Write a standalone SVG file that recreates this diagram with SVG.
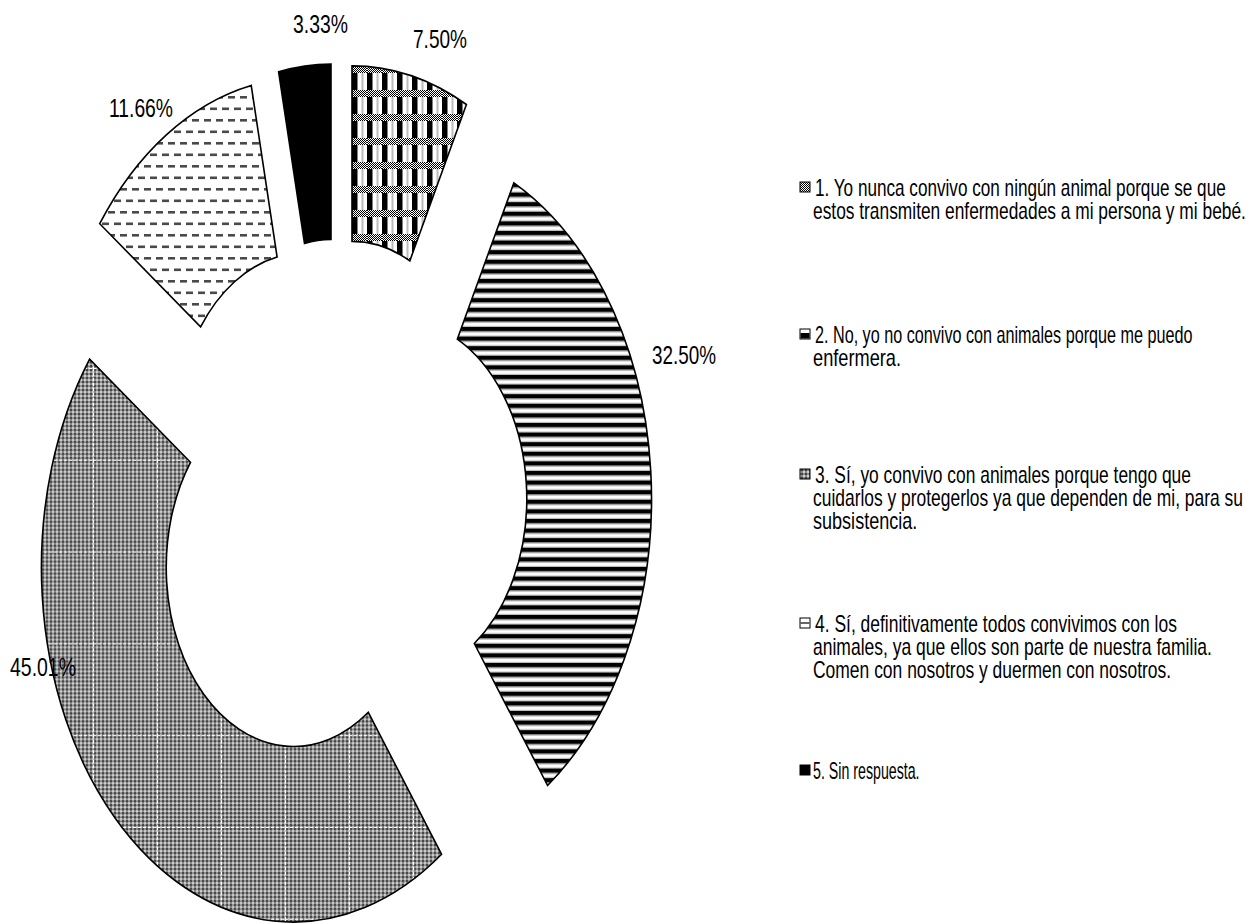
<svg xmlns="http://www.w3.org/2000/svg" width="1252" height="924" viewBox="0 0 1252 924">
<style>
.slice{stroke:#000;stroke-width:1.6;stroke-linejoin:miter}
.lbl{font-family:"Liberation Sans Narrow","Liberation Sans",Arial,sans-serif;font-size:25px;fill:#000}
.leg{font-family:"Liberation Sans","Liberation Sans Narrow",Arial,sans-serif;font-size:23px;fill:#000}
.mk{stroke:#000;stroke-width:1}
</style>
<defs>
<pattern id="chk2" width="2" height="2" patternUnits="userSpaceOnUse">
<rect width="2" height="2" fill="#fff"/><rect width="1" height="1" fill="#000"/><rect x="1" y="1" width="1" height="1" fill="#000"/>
</pattern>
<pattern id="p1" x="352" y="66" width="15" height="24" patternUnits="userSpaceOnUse">
<rect width="15" height="24" fill="#fff"/>
<rect y="0" width="15" height="7" fill="url(#chk2)"/>
<rect x="0" y="7" width="5.5" height="17" fill="#000"/>
<rect x="9.5" y="7" width="2" height="17" fill="#bbb"/>
</pattern>
<pattern id="p2" x="0" y="183" width="10" height="9.6" patternUnits="userSpaceOnUse">
<rect width="10" height="9.6" fill="#fff"/>
<rect y="0" width="10" height="4" fill="#000"/>
<rect y="4" width="10" height="1.2" fill="#777"/>
<rect y="8.4" width="10" height="1.2" fill="#bbb"/>
</pattern>
<pattern id="p3f" width="4" height="4" patternUnits="userSpaceOnUse">
<rect width="4" height="4" fill="#d0d0d0"/>
<polygon points="2,0 4,2 2,4 0,2" fill="#454545"/>
</pattern>
<pattern id="p3" x="29" y="0.8" width="64" height="91.8" patternUnits="userSpaceOnUse">
<rect width="64" height="91.8" fill="url(#p3f)"/>
<line x1="0.5" y1="0" x2="0.5" y2="91.8" stroke="#fff" stroke-width="1.2" stroke-dasharray="3,2"/>
<line x1="0" y1="0.5" x2="64" y2="0.5" stroke="#fff" stroke-width="1.2" stroke-dasharray="3,2"/>
</pattern>
<pattern id="p4" x="0" y="0" width="12" height="23" patternUnits="userSpaceOnUse">
<rect width="12" height="23" fill="#fff"/>
<rect x="0" y="4" width="7" height="2.6" fill="#4a4a4a"/>
<rect x="6" y="15.5" width="7" height="2.6" fill="#4a4a4a"/>
<rect x="-6" y="15.5" width="7" height="2.6" fill="#4a4a4a"/>
</pattern>
</defs>

<g id="slice-1">
<path class="slice" fill="url(#p1)" d="M352,65.9 A252,354.5 0 0 1 466.4,104.5 L409.8,260.9 A127.3,179 0 0 0 352,241.4 Z"/>
</g>
<g id="slice-2">
<path class="slice" fill="url(#p2)" d="M513.9,182.8 A252,354.5 0 0 1 547.6,785.5 L474.3,643.5 A127.3,179 0 0 0 457.3,339.2 Z"/>
</g>
<g id="slice-3">
<path class="slice" fill="url(#p3)" d="M441.6,854.3 A252,354.5 0 0 1 89.6,359.1 L190.5,462.3 A127.3,179 0 0 0 368.3,712.3 Z"/>
</g>
<g id="slice-4">
<path class="slice" fill="url(#p4)" d="M99.7,223.7 A252,354.5 0 0 1 251.2,85.4 L277.1,257 A127.3,179 0 0 0 200.6,326.9 Z"/>
</g>
<g id="slice-5">
<path class="slice" fill="#000" d="M278.6,71.8 A252,354.5 0 0 1 331,64 L331,239.5 A127.3,179 0 0 0 304.5,243.4 Z"/>
</g>

<g id="data-labels">
<text class="lbl" x="293" y="33" textLength="55" lengthAdjust="spacingAndGlyphs">3.33%</text>
<text class="lbl" x="413" y="48" textLength="54" lengthAdjust="spacingAndGlyphs">7.50%</text>
<text class="lbl" x="109" y="117" textLength="64" lengthAdjust="spacingAndGlyphs">11.66%</text>
<text class="lbl" x="652" y="364" textLength="64" lengthAdjust="spacingAndGlyphs">32.50%</text>
<text class="lbl" x="10" y="676" textLength="66" lengthAdjust="spacingAndGlyphs">45.01%</text>
</g>

<g id="legend">
<g id="legend-1">
<rect class="mk" x="800" y="182" width="10" height="10" fill="url(#chk2)"/>
<text class="leg" transform="translate(815,196) scale(0.74,1)" textLength="555" lengthAdjust="spacingAndGlyphs">1. Yo nunca convivo con ningún animal porque se  que</text>
<text class="leg" transform="translate(813,219) scale(0.74,1)" textLength="585" lengthAdjust="spacingAndGlyphs">estos transmiten enfermedades a mi persona y mi bebé.</text>
</g>
<g id="legend-2">
<rect class="mk" x="800" y="329" width="10" height="10" fill="#fff"/>
<rect x="800.5" y="333" width="9" height="5.5" fill="#000"/>
<text class="leg" transform="translate(815,343) scale(0.74,1)" textLength="510" lengthAdjust="spacingAndGlyphs">2. No, yo no convivo con animales porque  me puedo</text>
<text class="leg" transform="translate(813,366) scale(0.74,1)" textLength="119" lengthAdjust="spacingAndGlyphs">enfermera.</text>
</g>
<g id="legend-3">
<rect class="mk" x="800" y="469" width="10" height="10" fill="url(#p3f)"/>
<text class="leg" transform="translate(815,483) scale(0.74,1)" textLength="508" lengthAdjust="spacingAndGlyphs">3. Sí, yo convivo con animales porque tengo que</text>
<text class="leg" transform="translate(813,506) scale(0.74,1)" textLength="581" lengthAdjust="spacingAndGlyphs">cuidarlos y protegerlos ya que dependen de mi, para su</text>
<text class="leg" transform="translate(813,529) scale(0.74,1)" textLength="141" lengthAdjust="spacingAndGlyphs">subsistencia.</text>
</g>
<g id="legend-4">
<rect class="mk" x="800" y="618" width="10" height="10" fill="#fff"/>
<line x1="800.5" y1="623" x2="809.5" y2="623" stroke="#333" stroke-width="1.5"/>
<text class="leg" transform="translate(815,632) scale(0.74,1)" textLength="489" lengthAdjust="spacingAndGlyphs">4. Sí, definitivamente todos convivimos con los</text>
<text class="leg" transform="translate(813,655) scale(0.74,1)" textLength="539" lengthAdjust="spacingAndGlyphs">animales, ya que ellos son parte de nuestra familia.</text>
<text class="leg" transform="translate(813,678) scale(0.74,1)" textLength="484" lengthAdjust="spacingAndGlyphs">Comen con nosotros y duermen con nosotros.</text>
</g>
<g id="legend-5">
<rect class="mk" x="800" y="765" width="10" height="10" fill="#000"/>
<text class="leg" transform="translate(813,779) scale(0.74,1)" textLength="144" lengthAdjust="spacingAndGlyphs">5. Sin respuesta.</text>
</g>
</g>
</svg>
